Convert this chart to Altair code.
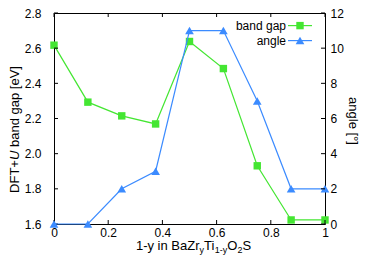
import altair as alt
import pandas as pd

# ---- data ----
x_vals = [0, 0.125, 0.25, 0.375, 0.5, 0.625, 0.75, 0.875, 1.0]
band_gap = [2.617, 2.293, 2.215, 2.169, 2.638, 2.484, 1.931, 1.623, 1.623]
angle = [0, 0, 2, 3, 11, 11, 7, 2, 2]
x_ticks = [0, 0.2, 0.4, 0.6, 0.8, 1.0]
left_ticks = [1.6, 1.8, 2.0, 2.2, 2.4, 2.6, 2.8]
right_ticks = [0, 2, 4, 6, 8, 10, 12]
series = ["band gap", "angle"]

GREEN = "#44e632"
BLUE = "#3b8bff"
FONT = "Liberation Sans"
W, H = 271, 211
TL = 4  # inward tick length

# Arial/Liberation Sans advance widths (per 1000 em) for title layout
AW = {'1': 556, '-': 333, 'y': 500, ' ': 278, 'i': 222, 'n': 556, 'B': 667,
      'a': 556, 'Z': 611, 'r': 333, 'T': 611, 'O': 778, '2': 556, 'S': 667,
      'D': 722, 'F': 611, '+': 584, 'U': 722, 'b': 556, 'd': 556, 'g': 556,
      'p': 556, '[': 278, 'e': 556, 'V': 667, ']': 278, 'l': 222, '°': 400}


def tw(s, size):
    return sum(AW.get(c, 556) for c in s) * size / 1000.0


df = pd.DataFrame({"x": x_vals, "bg": band_gap, "ang": angle})
one = pd.DataFrame({"k": [0]})

xs = alt.Scale(domain=[0, 1], nice=False, zero=False)
x_axis = alt.Axis(values=x_ticks, format="~g", ticks=False, tickSize=0, domain=False,
                  grid=False, labelPadding=3, labelFontSize=12, labelFont=FONT,
                  labelColor="black", labelFlush=False, labelOverlap=False, title=None)
ys_l = alt.Scale(domain=[1.6, 2.8], nice=False, zero=False)
yl_axis = alt.Axis(values=left_ticks, format=".1f", ticks=False, tickSize=0, domain=False,
                   grid=False, labelPadding=13, labelFontSize=12, labelFont=FONT,
                   labelColor="black", labelOverlap=False, orient="left", title=None)
ys_r = alt.Scale(domain=[0, 12], nice=False, zero=False)
yr_axis = alt.Axis(values=right_ticks, format="d", ticks=False, tickSize=0, domain=False,
                   grid=False, labelPadding=5, labelFontSize=12, labelFont=FONT,
                   labelColor="black", labelOverlap=False, orient="right", title=None)

X = alt.X("x:Q", scale=xs, axis=x_axis)
YL = alt.Y("bg:Q", scale=ys_l, axis=yl_axis)
YR = alt.Y("ang:Q", scale=ys_r, axis=yr_axis)

base = alt.Chart(df)

bg_line = base.mark_line(color=GREEN, strokeWidth=1.2).encode(x=X, y=YL)
bg_pts = base.mark_point(shape="square", filled=True, opacity=1, color=GREEN, size=55).encode(x=X, y=YL)

ang_line = base.mark_line(color=BLUE, strokeWidth=1.2).encode(x=X, y=YR)
ang_pts = base.mark_point(shape="triangle-up", filled=True, opacity=1, color=BLUE, size=75).encode(x=X, y=YR)

# inward ticks
xt_df = pd.DataFrame({"x": x_ticks})
bottom_ticks = alt.Chart(xt_df).mark_rule(color="black", strokeWidth=1).encode(
    x=X, y=alt.value(H), y2=alt.value(H - TL))
top_ticks = alt.Chart(xt_df).mark_rule(color="black", strokeWidth=1).encode(
    x=X, y=alt.value(0), y2=alt.value(TL))
lt_df = pd.DataFrame({"bg": left_ticks})
left_tk = alt.Chart(lt_df).mark_rule(color="black", strokeWidth=1).encode(
    y=YL, x=alt.value(0), x2=alt.value(TL))
rt_df = pd.DataFrame({"ang": right_ticks})
right_tk = alt.Chart(rt_df).mark_rule(color="black", strokeWidth=1).encode(
    y=YR, x=alt.value(W - TL), x2=alt.value(W))

# legend (top right, labels left of symbols)
legend_layers = []
leg_text_x = 232
leg_line = (234, 258)
leg_rows = [12.6, 27.6]
leg_colors = [GREEN, BLUE]
leg_shapes = ["square", "triangle-up"]
leg_sizes = [55, 75]
for name, yy, col, shp, sz in zip(series, leg_rows, leg_colors, leg_shapes, leg_sizes):
    legend_layers.append(alt.Chart(one).mark_text(
        text=name, align="right", baseline="middle", fontSize=12, font=FONT, color="black"
    ).encode(x=alt.value(leg_text_x), y=alt.value(yy)))
    legend_layers.append(alt.Chart(one).mark_rule(color=col, strokeWidth=1.2).encode(
        x=alt.value(leg_line[0]), x2=alt.value(leg_line[1]), y=alt.value(yy)))
    legend_layers.append(alt.Chart(one).mark_point(
        shape=shp, filled=True, opacity=1, color=col, size=sz
    ).encode(x=alt.value((leg_line[0] + leg_line[1]) / 2), y=alt.value(yy)))

# x-axis title with subscripts: 1-y in BaZr_y Ti_{1-y} O_2 S
x_pieces = [("1-y in BaZr", 13, 0), ("y", 9, 2.5), ("Ti", 13, 0), ("1-y", 9, 2.5),
            ("O", 13, 0), ("2", 9, 2.5), ("S", 13, 0)]
total = sum(tw(s, fs) for s, fs, _ in x_pieces)
cx = W / 2 + 4 - total / 2
x_title_layers = []
for s, fs, dyy in x_pieces:
    x_title_layers.append(alt.Chart(one).mark_text(
        text=s, align="left", baseline="alphabetic", fontSize=fs, font=FONT, color="black"
    ).encode(x=alt.value(cx), y=alt.value(H + 26 + dyy)))
    cx += tw(s, fs)

# left axis title: DFT+U band gap [eV]  (U italic), rotated
l_pieces = [("DFT+", "normal", 0), ("U", "italic", 0), ("band gap [eV]", "normal", tw(" ", 13))]
total_l = sum(tw(s, 13) + pre for s, _, pre in l_pieces)
cy = H / 2 + 11 + total_l / 2
l_title_layers = []
for s, st, pre in l_pieces:
    cy -= pre
    l_title_layers.append(alt.Chart(one).mark_text(
        text=s, align="left", baseline="alphabetic", angle=270, fontSize=13, font=FONT,
        fontStyle=st, color="black"
    ).encode(x=alt.value(-35), y=alt.value(cy)))
    cy -= tw(s, 13)

# right axis title: angle [°]
r_text = "angle [°]"
r_title = alt.Chart(one).mark_text(
    text=r_text, align="left", baseline="alphabetic", angle=90, fontSize=13, font=FONT,
    color="black"
).encode(x=alt.value(W + 24), y=alt.value(H / 2 + 2.5 - tw(r_text, 13) / 2))

left_group = alt.layer(bg_line, bg_pts, bottom_ticks, top_ticks, left_tk,
                       *legend_layers, *x_title_layers, *l_title_layers, r_title)
right_group = alt.layer(ang_line, ang_pts, right_tk)

chart = alt.layer(left_group, right_group).resolve_scale(y="independent").properties(
    width=W, height=H,
    padding={"left": 46, "top": 5, "right": 35, "bottom": 33},
    autosize=alt.AutoSizeParams(type="none"),
    background="white",
).configure_view(stroke="black", strokeWidth=1)

chart.save("out.html", embed_options={"renderer": "svg", "actions": False})
